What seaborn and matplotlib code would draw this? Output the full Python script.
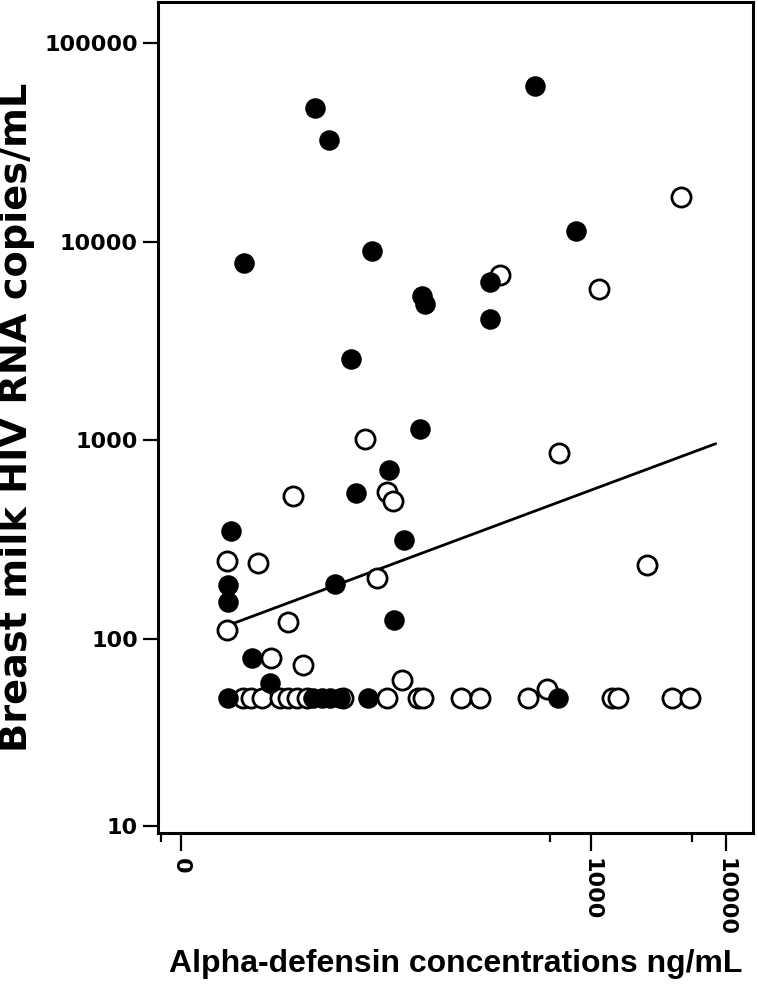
import matplotlib
matplotlib.use("Agg")
import matplotlib.pyplot as plt
import seaborn as sns
import pandas as pd

# --- DATA ---
# filled circles
filled_conc = [385, 9.0, 11.5, 2.7, 24, 775, 180, 56, 59, 180, 16.7, 54, 32, 18.2, 41,
               2.15, 2.05, 2.05, 12.7, 34.7, 3.1, 4.2,
               2.05, 8.7, 10.2, 11.7, 13.8, 22.3, 570]
filled_rna = [60700, 47100, 32500, 7800, 9000, 11300, 6250, 5300, 4850, 4070, 2560, 1140, 706, 541, 313,
              348, 186, 153, 188, 124, 80, 60,
              50, 50, 50, 50, 50, 50, 50]

# open circles
open_conc = [4640, 212, 1150, 21.2, 580, 6.2, 30.8, 34, 26.2, 3.4, 2.0, 5.7, 2.0, 2600, 4.26, 7.36, 39.8, 472,
             2.64, 3.03, 3.66, 4.97, 5.7, 6.64, 7.88, 14.6, 30.8, 52.3, 57, 109, 151, 341, 1430, 1585, 3980, 5410]
open_rna = [16750, 6780, 5770, 1010, 860, 522, 550, 495, 202, 240, 245, 121, 110, 234, 80, 73.5, 62, 56] + [50] * 18

# regression line end points
fit_conc = [2.0, 8400]
fit_rna = [116, 960]

x_ticks = [0.92, 1000, 10000]
x_ticklabels = ["0", "1000", "10000"]
x_minor = [0.65, 500, 5600]
y_ticks = [11.4, 100, 1000, 10000, 100000]
y_ticklabels = ["10", "100", "1000", "10000", "100000"]

filled_df = pd.DataFrame({"conc": filled_conc, "rna": filled_rna})
open_df = pd.DataFrame({"conc": open_conc, "rna": open_rna})

sns.set_style("ticks", {"axes.edgecolor": "black", "xtick.color": "black", "ytick.color": "black",
                        "text.color": "black", "axes.labelcolor": "black"})
plt.rcParams["font.family"] = ["DejaVu Sans"]

fig = plt.figure(figsize=(7.58, 9.84), dpi=100)
ax = fig.add_axes([158 / 758, 1 - 833 / 984, 595 / 758, 831 / 984])

sns.scatterplot(data=open_df, x="conc", y="rna", ax=ax, s=190, marker="o",
                facecolor="white", edgecolor="black", linewidth=2.0, zorder=3)
sns.scatterplot(data=filled_df, x="conc", y="rna", ax=ax, s=190, marker="o",
                color="black", edgecolor="black", linewidth=1.0, zorder=4)
sns.lineplot(x=fit_conc, y=fit_rna, ax=ax, color="black", linewidth=2.0, zorder=2)

ax.set_xscale("log")
ax.set_yscale("log")
ax.set_xlim(0.62, 15850)
ax.set_ylim(10.5, 161000)

ax.set_xticks(x_ticks)
ax.set_xticklabels(x_ticklabels, rotation=-90, fontweight="bold", fontsize=16)
ax.set_xticks(x_minor, minor=True)
ax.xaxis.set_minor_formatter(matplotlib.ticker.NullFormatter())
ax.set_yticks(y_ticks)
ax.set_yticklabels(y_ticklabels, fontweight="bold", fontsize=16)
ax.yaxis.set_minor_locator(matplotlib.ticker.NullLocator())

ax.tick_params(axis="x", which="major", bottom=True, direction="out", length=13, width=1.6, pad=5)
ax.tick_params(axis="x", which="minor", bottom=True, direction="out", length=6.5, width=1.6)
ax.tick_params(axis="y", which="major", left=True, direction="out", length=10.5, width=1.6, pad=4)

for sp in ax.spines.values():
    sp.set_linewidth(2.2)
    sp.set_color("black")

ax.set_xlabel("Alpha-defensin concentrations ng/mL", fontsize=23, fontweight="bold",
              family="Liberation Sans", va="center")
ax.xaxis.set_label_coords(0.5, -0.158)
ax.set_ylabel("Breast milk HIV RNA copies/mL", fontsize=27.5, fontweight="bold", va="center")
ax.yaxis.set_label_coords(-0.237, 0.5)

fig.savefig("out.png", dpi=100)
